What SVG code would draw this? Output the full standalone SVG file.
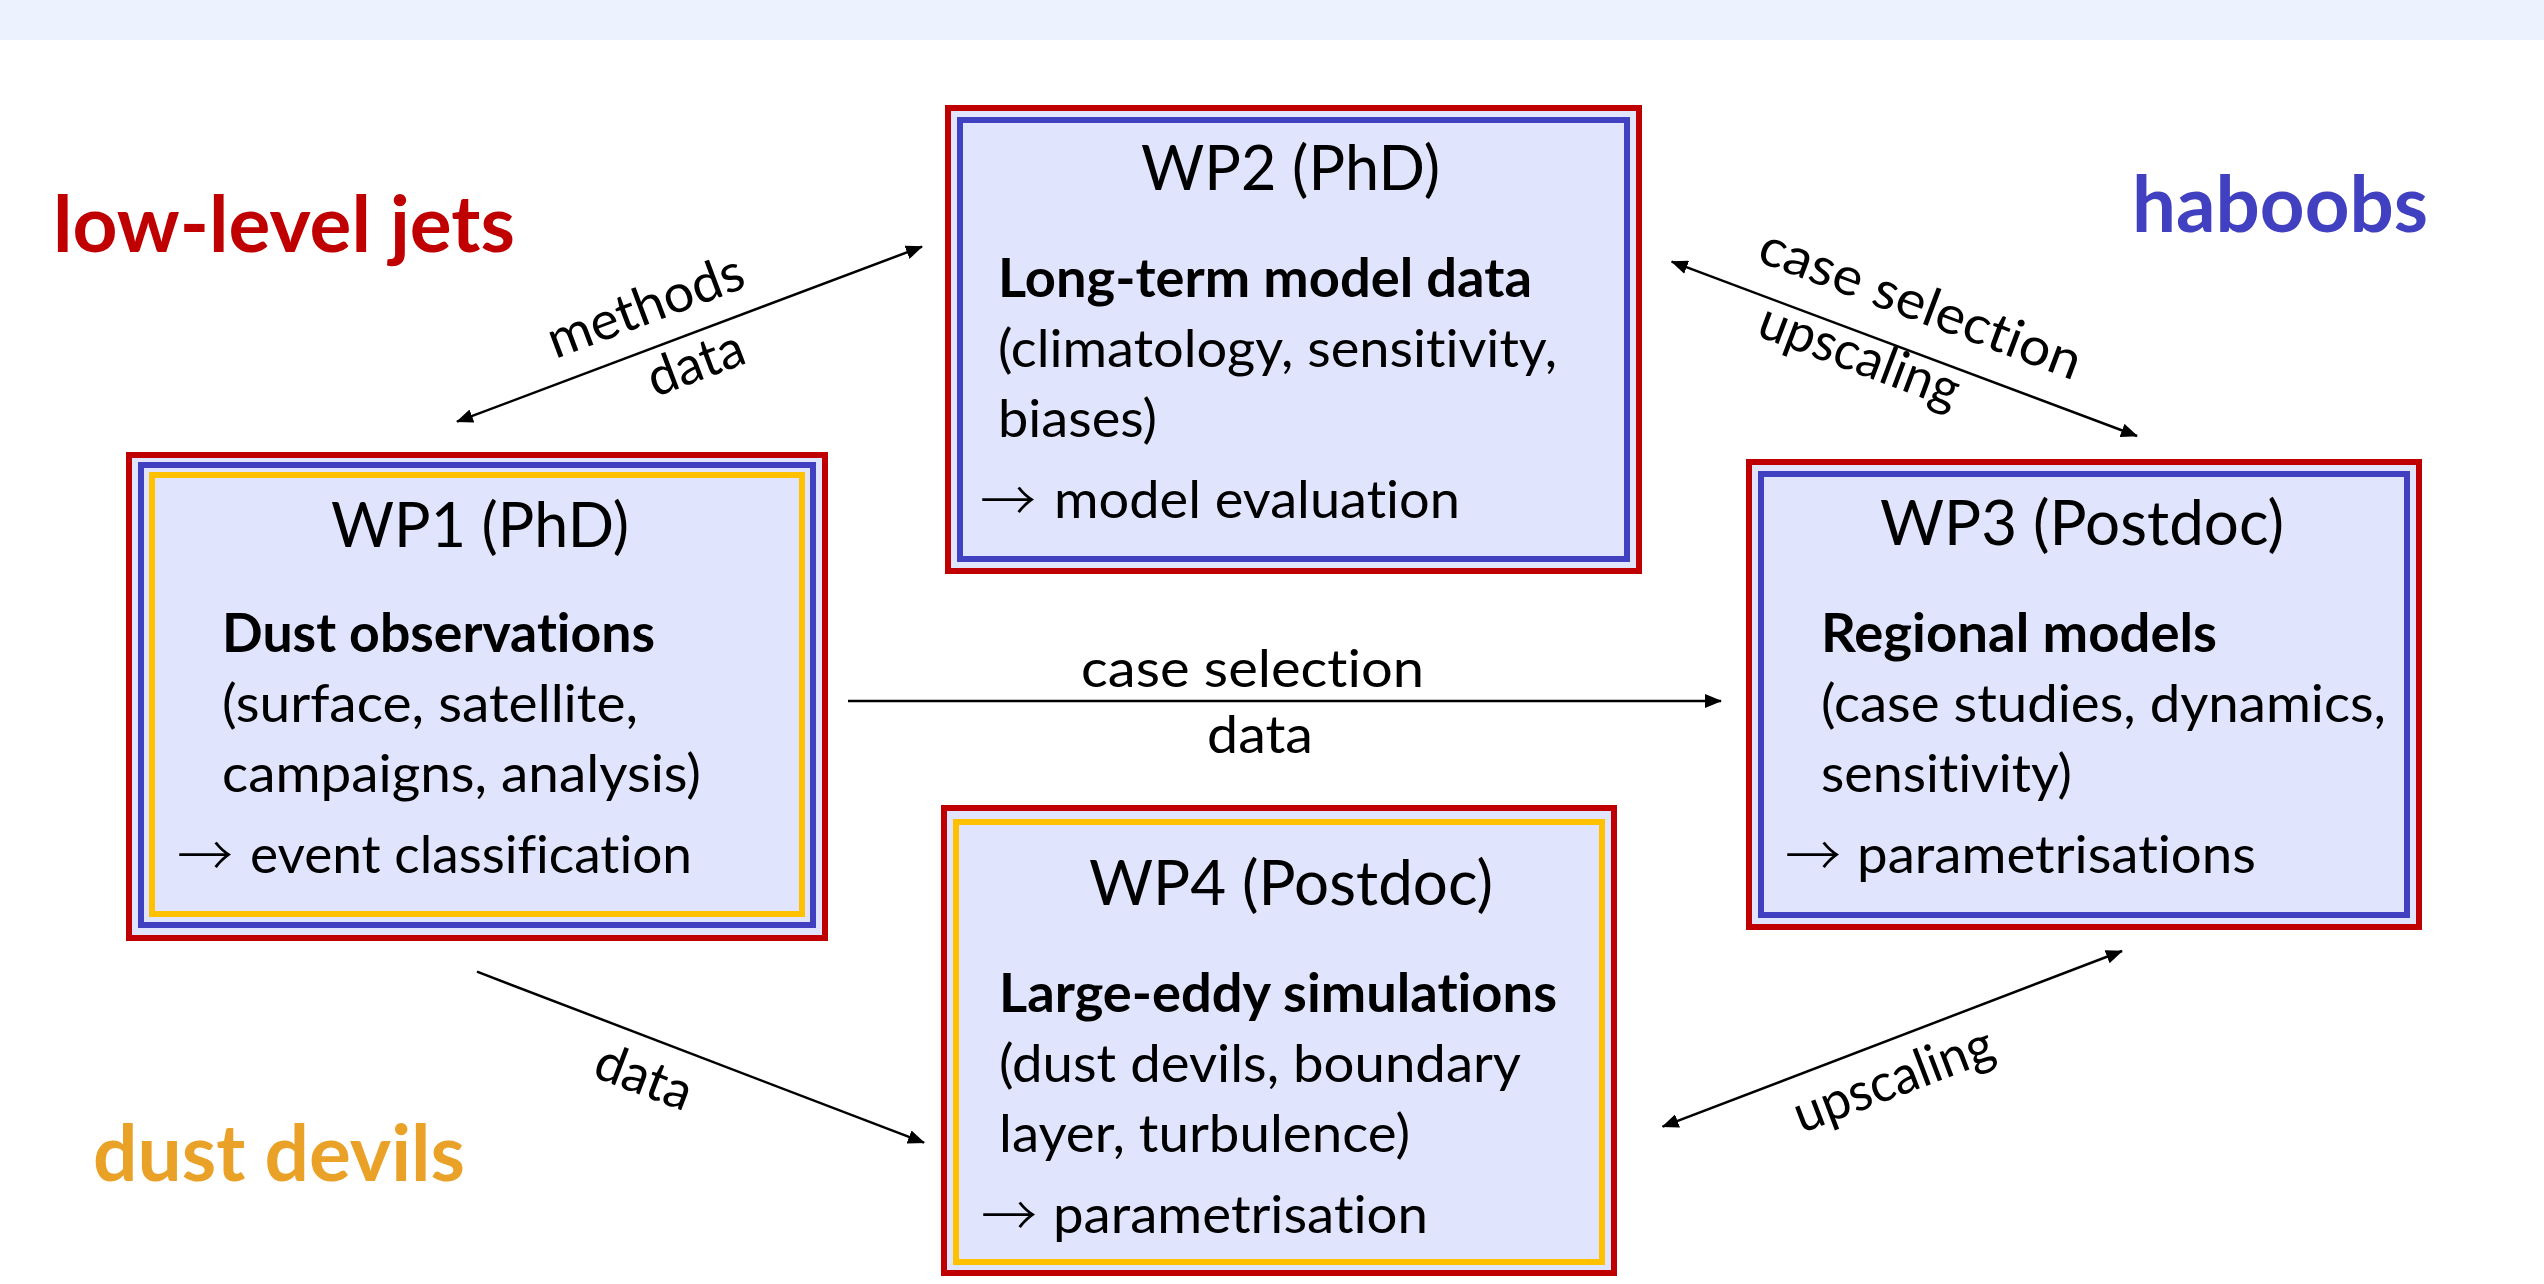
<svg xmlns="http://www.w3.org/2000/svg" width="2544" height="1284" viewBox="0 0 2544 1284">
<style>
  text { font-family: Lato, "Liberation Sans", sans-serif; fill: #000; font-variant-ligatures: none; }
  .title { font-size: 62px; }
  .body { font-size: 53px; }
  .b { font-weight: 700; }
  .arr { font-family: "Noto Sans CJK JP", "DejaVu Sans", sans-serif; font-size: 56px; font-weight: 300; }
  .side { font-size: 78px; font-weight: 700; }
  .red { fill: #E0E4FC; stroke: #C00000; stroke-width: 6; }
  .blue { fill: none; stroke: #4040C0; stroke-width: 6; }
  .yel { fill: none; stroke: #FFC000; stroke-width: 6; }
  .conn { fill: none; stroke: #000; stroke-width: 2.5; }
</style>
<defs>
  <marker id="ah" viewBox="0 0 17 14" refX="16" refY="7" markerWidth="17" markerHeight="14" markerUnits="userSpaceOnUse" orient="auto-start-reverse">
    <path d="M0,0 L17,7 L0,14 z" fill="#000"/>
  </marker>
</defs>
<rect x="0" y="0" width="2544" height="40" fill="#EDF3FE"/>

<g id="labels">
  <text class="side" x="53" y="252" style="fill:#C00000" textLength="462" lengthAdjust="spacingAndGlyphs">low-level jets</text>
  <text class="side" x="2132" y="232" style="fill:#4040C0" textLength="296" lengthAdjust="spacingAndGlyphs">haboobs</text>
  <text class="side" x="93" y="1181" style="fill:#E9A227" textLength="372" lengthAdjust="spacingAndGlyphs">dust devils</text>
</g>

<g id="connectors">
  <line class="conn" x1="457" y1="421.7" x2="922" y2="246.7" marker-start="url(#ah)" marker-end="url(#ah)"/>
  <line class="conn" x1="1671.7" y1="261.7" x2="2137" y2="436" marker-start="url(#ah)" marker-end="url(#ah)"/>
  <line class="conn" x1="848" y1="701" x2="1721" y2="701" marker-end="url(#ah)"/>
  <line class="conn" x1="477" y1="971.7" x2="924" y2="1142.7" marker-end="url(#ah)"/>
  <line class="conn" x1="1662.6" y1="1126.7" x2="2122" y2="951" marker-start="url(#ah)" marker-end="url(#ah)"/>
  <text class="body" transform="translate(651.7,322.8) rotate(-20.6)" x="-103" y="0" textLength="206" lengthAdjust="spacingAndGlyphs">methods</text>
  <text class="body" transform="translate(701.9,379.8) rotate(-20.6)" x="-50" y="0" textLength="100" lengthAdjust="spacingAndGlyphs">data</text>
  <text class="body" transform="translate(1914.3,320.6) rotate(20.6)" x="-170" y="0" textLength="340" lengthAdjust="spacingAndGlyphs">case selection</text>
  <text class="body" transform="translate(1853.4,372.2) rotate(20.6)" x="-105" y="0" textLength="210" lengthAdjust="spacingAndGlyphs">upscaling</text>
  <text class="body" x="1081" y="687" textLength="343" lengthAdjust="spacingAndGlyphs">case selection</text>
  <text class="body" x="1207" y="753" textLength="106" lengthAdjust="spacingAndGlyphs">data</text>
  <text class="body" transform="translate(637.6,1093.8) rotate(20.9)" x="-50" y="0" textLength="100" lengthAdjust="spacingAndGlyphs">data</text>
  <text class="body" transform="translate(1899.6,1096.1) rotate(-20.9)" x="-105" y="0" textLength="210" lengthAdjust="spacingAndGlyphs">upscaling</text>
</g>

<g id="wp1">
  <rect class="red" x="129" y="455" width="696" height="483"/>
  <rect class="blue" x="141" y="465" width="672" height="460"/>
  <rect class="yel" x="152" y="475" width="650" height="439"/>
  <text class="title" x="331" y="547" textLength="298" lengthAdjust="spacingAndGlyphs">WP1 (PhD)</text>
  <text class="body b" x="222" y="652" textLength="433" lengthAdjust="spacingAndGlyphs">Dust observations</text>
  <text class="body" x="222" y="722" textLength="416" lengthAdjust="spacingAndGlyphs">(surface, satellite,</text>
  <text class="body" x="222" y="792" textLength="479" lengthAdjust="spacingAndGlyphs">campaigns, analysis)</text>
  <text class="arr" x="177" y="876">→</text>
  <text class="body" x="250" y="873" textLength="442" lengthAdjust="spacingAndGlyphs">event classification</text>
</g>

<g id="wp2">
  <rect class="red" x="948" y="108" width="691" height="463"/>
  <rect class="blue" x="960" y="120" width="667" height="439"/>
  <text class="title" x="1141" y="190" textLength="299" lengthAdjust="spacingAndGlyphs">WP2 (PhD)</text>
  <text class="body b" x="998" y="297" textLength="534" lengthAdjust="spacingAndGlyphs">Long-term model data</text>
  <text class="body" x="998" y="367" textLength="559" lengthAdjust="spacingAndGlyphs">(climatology, sensitivity,</text>
  <text class="body" x="998" y="437" textLength="159" lengthAdjust="spacingAndGlyphs">biases)</text>
  <text class="arr" x="980" y="521">→</text>
  <text class="body" x="1054" y="518" textLength="406" lengthAdjust="spacingAndGlyphs">model evaluation</text>
</g>

<g id="wp3">
  <rect class="red" x="1749" y="462" width="670" height="465"/>
  <rect class="blue" x="1761" y="474" width="646" height="441"/>
  <text class="title" x="1880" y="545" textLength="404" lengthAdjust="spacingAndGlyphs">WP3 (Postdoc)</text>
  <text class="body b" x="1821" y="652" textLength="396" lengthAdjust="spacingAndGlyphs">Regional models</text>
  <text class="body" x="1821" y="722" textLength="565" lengthAdjust="spacingAndGlyphs">(case studies, dynamics,</text>
  <text class="body" x="1821" y="792" textLength="251" lengthAdjust="spacingAndGlyphs">sensitivity)</text>
  <text class="arr" x="1785" y="876">→</text>
  <text class="body" x="1857" y="873" textLength="399" lengthAdjust="spacingAndGlyphs">parametrisations</text>
</g>

<g id="wp4">
  <rect class="red" x="944" y="808" width="670" height="465"/>
  <rect class="yel" x="956" y="822" width="646" height="440"/>
  <text class="title" x="1089" y="905" textLength="404" lengthAdjust="spacingAndGlyphs">WP4 (Postdoc)</text>
  <text class="body b" x="999" y="1012" textLength="558" lengthAdjust="spacingAndGlyphs">Large-eddy simulations</text>
  <text class="body" x="999" y="1082" textLength="522" lengthAdjust="spacingAndGlyphs">(dust devils, boundary</text>
  <text class="body" x="999" y="1152" textLength="411" lengthAdjust="spacingAndGlyphs">layer, turbulence)</text>
  <text class="arr" x="981" y="1236">→</text>
  <text class="body" x="1053" y="1233" textLength="375" lengthAdjust="spacingAndGlyphs">parametrisation</text>
</g>
</svg>
